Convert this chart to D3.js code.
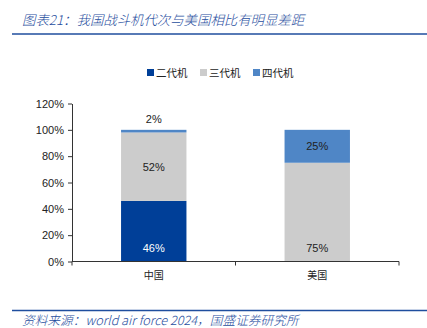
<!DOCTYPE html>
<html>
<head>
<meta charset="utf-8">
<script src="https://cdn.jsdelivr.net/npm/d3@7/dist/d3.min.js"></script>
<style>
  html, body { margin: 0; padding: 0; background: #fff; }
  svg { display: block; }
</style>
</head>
<body>
<svg id="chart" width="427" height="328"></svg>
<script>
// Fighter jet generation mix, China vs. United States
const categories = ["中国", "美国"];
const seriesNames = ["二代机", "三代机", "四代机"];
const gen2 = [46, 0];
const gen3 = [52, 75];
const gen4 = [2, 25];
const yTicks = [0, 20, 40, 60, 80, 100, 120];
const colors = ["#003f98", "#cccccc", "#4f86c6"];
const labelColors = ["#ffffff", "#222222", "#222222"];

const svg = d3.select("#chart");
const cjk = "'Noto Sans CJK SC', sans-serif";
const latin = "'Liberation Sans', Arial, sans-serif";
const blue = "#1f4e9e";

// Title and rules
svg.append("text")
  .attr("x", 22).attr("y", 25)
  .attr("font-family", cjk).attr("font-style", "italic").attr("font-weight", 300)
  .attr("font-size", 13.4).attr("fill", blue)
  .text("图表21：我国战斗机代次与美国相比有明显差距");
svg.append("line").attr("x1", 12).attr("x2", 427).attr("y1", 34).attr("y2", 34)
  .attr("stroke", blue).attr("stroke-width", 1.5);
svg.append("line").attr("x1", 12).attr("x2", 427).attr("y1", 310.5).attr("y2", 310.5)
  .attr("stroke", blue).attr("stroke-width", 1.5);
svg.append("text")
  .attr("x", 22).attr("y", 325)
  .attr("font-family", cjk).attr("font-style", "italic").attr("font-weight", 300)
  .attr("font-size", 12.7).attr("fill", blue)
  .text("资料来源：world air force 2024，国盛证券研究所");

// Scales
const x = d3.scaleBand().domain(categories).range([72, 399]).paddingInner(0.6).paddingOuter(0.3);
const y = d3.scaleLinear().domain([0, 120]).range([261.5, 103.5]);

// Stacked data
const rows = categories.map((c, i) => ({ cat: c, s0: gen2[i], s1: gen3[i], s2: gen4[i] }));
const stack = d3.stack().keys(["s0", "s1", "s2"])(rows);

const g = svg.append("g");
stack.forEach((layer, li) => {
  layer.forEach(d => {
    const v = d[1] - d[0];
    if (v <= 0) return;
    g.append("rect")
      .attr("x", x(d.data.cat))
      .attr("width", x.bandwidth())
      .attr("y", y(d[1]))
      .attr("height", y(d[0]) - y(d[1]))
      .attr("fill", colors[li]);
  });
});

// Value labels
stack.forEach((layer, li) => {
  layer.forEach(d => {
    const v = d[1] - d[0];
    if (v <= 0) return;
    let ly;
    let fill = labelColors[li];
    if (v < 5) { ly = y(d[1]) - 11; fill = "#222"; }
    else if (li === 0 || (li === 1 && d[0] === 0)) ly = y(d[0]) - 13;
    else ly = (y(d[0]) + y(d[1])) / 2;
    g.append("text")
      .attr("x", x(d.data.cat) + x.bandwidth() / 2)
      .attr("y", ly)
      .attr("dy", "0.35em")
      .attr("text-anchor", "middle")
      .attr("font-family", latin).attr("font-size", 11)
      .attr("fill", fill)
      .text(v + "%");
  });
});

// Y axis
const yAxis = d3.axisLeft(y).tickValues(yTicks).tickFormat(d => d + "%").tickSize(4).tickSizeOuter(0);
const ya = svg.append("g").attr("transform", "translate(72,0)").call(yAxis);
ya.select(".domain").attr("stroke", "#333");
ya.selectAll(".tick line").attr("stroke", "#333");
ya.selectAll("text").attr("font-family", latin).attr("font-size", 11).attr("fill", "#222").attr("x", -8);

// X axis with boundary ticks between categories
const xa = svg.append("g").attr("transform", "translate(0,261.5)");
xa.append("line").attr("x1", 72).attr("x2", 399).attr("stroke", "#333");
const bounds = [72, (x(categories[0]) + x.bandwidth() / 2 + x(categories[1]) + x.bandwidth() / 2) / 2, 399];
bounds.forEach(bx => xa.append("line").attr("x1", bx).attr("x2", bx).attr("y1", 0).attr("y2", 4).attr("stroke", "#333"));
categories.forEach(c => {
  xa.append("text")
    .attr("x", x(c) + x.bandwidth() / 2)
    .attr("y", 17)
    .attr("text-anchor", "middle")
    .attr("font-family", cjk).attr("font-size", 10)
    .attr("fill", "#222")
    .text(c);
});

// Legend
const legendX = [147, 200, 253];
seriesNames.forEach((n, i) => {
  const lg = svg.append("g").attr("transform", `translate(${legendX[i]},73)`);
  lg.append("rect").attr("x", 0).attr("y", -4).attr("width", 7).attr("height", 7).attr("fill", colors[i]);
  lg.append("text").attr("x", 9).attr("y", 0).attr("dy", "0.35em")
    .attr("font-family", cjk).attr("font-size", 10.5).attr("fill", "#222").text(n);
});
</script>
</body>
</html>
